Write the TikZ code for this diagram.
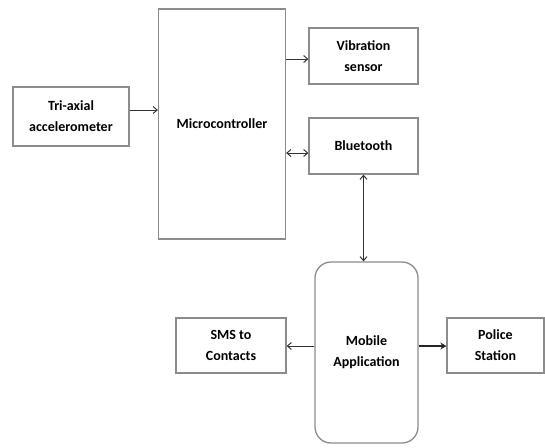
\documentclass[tikz,border=0pt]{standalone}
\usepackage{fontspec}
\setmainfont{Carlito}
\usetikzlibrary{arrows.meta}
\tikzset{
  blk/.style={draw=black!45, line width=1.3pt, fill=white, inner sep=0pt, align=center,
    font=\fontsize{14}{21}\selectfont\bfseries},
  conn/.style={draw=black!80, line width=1pt, -{Straight Barb[length=4pt,width=7pt]}},
  bconn/.style={draw=black!80, line width=1pt, {Straight Barb[length=4pt,width=7pt]}-{Straight Barb[length=4pt,width=7pt]}},
  thickconn/.style={draw=black!85, line width=2pt, -{Stealth[length=6pt,width=7pt]}}
}
\begin{document}
\begin{tikzpicture}[x=1pt,y=-1pt]
\useasboundingbox (0,0) rectangle (545,447);
\node[blk, minimum width=116pt, minimum height=59pt] (tri) at (71,116.5) {Tri-axial\\accelerometer};
\node[blk, minimum width=127pt, minimum height=230pt] (mc) at (222,124) {Microcontroller};
\node[blk, minimum width=109pt, minimum height=56pt] (vib) at (363.5,56) {Vibration\\sensor};
\node[blk, minimum width=109pt, minimum height=56pt] (bt) at (363.5,146) {Bluetooth};
\node[blk, rounded corners=16pt, minimum width=103pt, minimum height=181pt] (mob) at (366.5,352.5) {Mobile\\Application};
\node[blk, minimum width=110pt, minimum height=55pt] (sms) at (231,345.5) {SMS to\\Contacts};
\node[blk, minimum width=97pt, minimum height=55pt] (pol) at (495.5,345.5) {Police\\Station};
\draw[conn] ([yshift=6.5pt]tri.east) -- ([yshift=6.5pt]tri.east -| mc.west);
\draw[conn] ([yshift=-3pt]vib.west -| mc.east) -- ([yshift=-3pt]vib.west);
\draw[bconn] ([yshift=-7pt]bt.west -| mc.east) -- ([yshift=-7pt]bt.west);
\draw[bconn] (bt.south) -- (bt.south |- mob.north);
\draw[conn] ([yshift=6.5pt]mob.west) -- ([yshift=6.5pt]mob.west -| sms.east);
\draw[thickconn] ([yshift=6.5pt]mob.east) -- ([yshift=6.5pt]mob.east -| pol.west);
\end{tikzpicture}
\end{document}
